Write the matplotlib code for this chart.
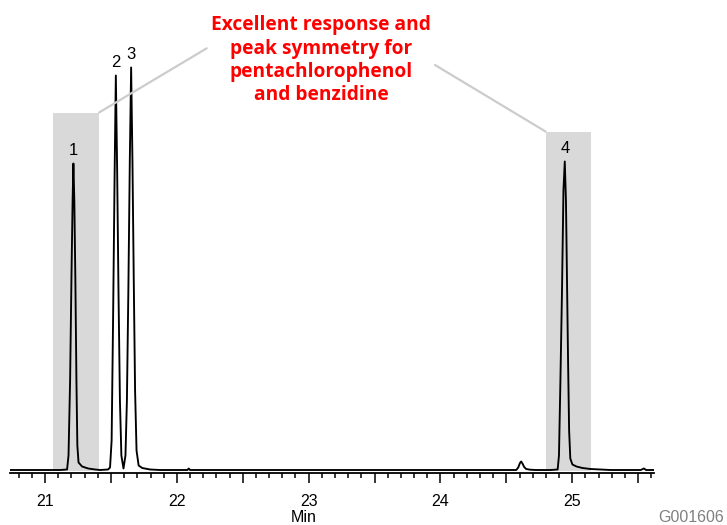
import matplotlib
matplotlib.use("Agg")
import matplotlib.pyplot as plt
from matplotlib.ticker import MultipleLocator, FuncFormatter

# detector trace (time in min, signal in arbitrary units)
trace_time = [
    20.734, 21.114, 21.167, 21.178, 21.190, 21.201, 21.209, 21.215, 21.222, 21.230,
    21.238, 21.245, 21.254, 21.281, 21.327, 21.380, 21.418,
    21.478, 21.493, 21.505, 21.516, 21.528, 21.537, 21.547, 21.557, 21.568, 21.579,
    21.595, 21.610, 21.621, 21.632, 21.643, 21.653, 21.663, 21.673, 21.683, 21.694,
    21.710, 21.737, 21.797, 21.873,
    22.080, 22.090, 22.100,
    24.575, 24.590, 24.603, 24.612, 24.622, 24.635, 24.650, 24.680, 24.720,
    24.836, 24.889, 24.899, 24.910, 24.922, 24.933, 24.943, 24.952, 24.960, 24.968,
    24.976, 24.985, 25.001, 25.032, 25.077, 25.138, 25.213, 25.289,
    25.520, 25.543, 25.560, 25.620,
]
trace_signal = [
    0.5, 0.5, 1, 15, 90, 200, 270, 307, 270, 190,
    90, 25, 8, 4, 2, 1, 0.5,
    1, 3, 30, 150, 300, 395, 300, 180, 70, 15,
    2, 15, 70, 180, 310, 403, 310, 190, 80, 20,
    5, 2.5, 1, 0.5,
    0.5, 2, 0.5,
    0.5, 3, 7.5, 9, 7, 3.5, 1.5, 0.8, 0.5,
    0.5, 1, 15, 90, 180, 280, 309, 270, 190, 110,
    40, 12, 6, 4, 2.5, 1.5, 1, 0.5,
    0.5, 2, 0.5, 0.5,
]

peak_labels = ["1", "2", "3", "4"]
peak_time = [21.215, 21.537, 21.653, 24.943]
peak_height = [307, 395, 403, 309]

# highlighted windows around peaks 1 and 4
box_start = [21.063, 24.797]
box_end = [21.410, 25.143]
box_top = [358, 339]

note = "Excellent response and\npeak symmetry for\npentachlorophenol\nand benzidine"

W, H = 727, 525
fig = plt.figure(figsize=(W / 100, H / 100), dpi=100)
ax = fig.add_axes([10 / W, 52 / H, 644 / W, 473 / H])

# gray boxes
for s, e, t in zip(box_start, box_end, box_top):
    ax.bar(s, t, width=e - s, align="edge", bottom=0, color="#d9d9d9", zorder=1)

ax.plot(trace_time, trace_signal, color="black", lw=1.35, zorder=3)

for lab, t, h in zip(peak_labels, peak_time, peak_height):
    ax.annotate(lab, xy=(t, h), xytext=(0, 9.5), textcoords="offset points",
                ha="center", va="center", fontsize=12, family="Liberation Sans")

ax.set_xlim(20.734, 25.62)
ax.set_ylim(-2.5, 470.5)

for s in ["top", "left", "right"]:
    ax.spines[s].set_visible(False)
ax.spines["bottom"].set_linewidth(1.3)
ax.set_yticks([])

ax.xaxis.set_major_locator(MultipleLocator(0.5))
ax.xaxis.set_minor_locator(MultipleLocator(0.1))
ax.xaxis.set_major_formatter(FuncFormatter(lambda v, p: f"{v:.0f}" if abs(v - round(v)) < 1e-6 else ""))
ax.tick_params(axis="x", which="major", length=7.2, width=1.1, pad=8, labelsize=11.5)
ax.tick_params(axis="x", which="minor", length=3.6, width=1.1)
for lbl in ax.get_xticklabels():
    lbl.set_family("Liberation Sans")

# callout lines from the boxes to the note
ax.annotate("", xy=(box_end[0], box_top[0]), xytext=(206.7 / W, 1 - 48.3 / H),
            textcoords="figure fraction",
            arrowprops=dict(arrowstyle="-", color="#cccccc", lw=1.6, shrinkA=0, shrinkB=0))
ax.annotate("", xy=(box_start[1], box_top[1]), xytext=(435 / W, 1 - 65 / H),
            textcoords="figure fraction",
            arrowprops=dict(arrowstyle="-", color="#cccccc", lw=1.6, shrinkA=0, shrinkB=0))

fig.text(321 / W, 1 - 60.3 / H, note, color="#ff0000", fontsize=13.8, fontweight="bold",
         family="Open Sans", ha="center", va="center", linespacing=1.22)

fig.text(304 / W, 1 - 518 / H, "Min", fontsize=11.5, family="Liberation Sans",
         ha="center", va="center")
fig.text(724 / W, 1 - 517 / H, "G001606", fontsize=11.5, family="Liberation Sans",
         color="#808080", ha="right", va="center")

fig.savefig("out.png", dpi=100)
